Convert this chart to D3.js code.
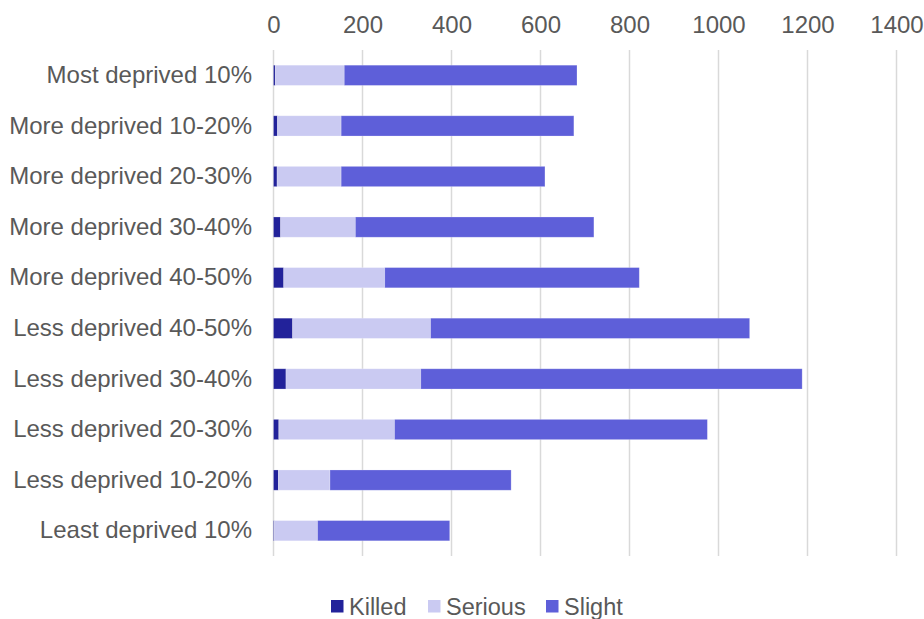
<!DOCTYPE html>
<html>
<head>
<meta charset="utf-8">
<script src="https://cdn.jsdelivr.net/npm/d3@7"></script>
<style>
  body { margin: 0; background: #fff; }
  svg text { font-family: "Liberation Sans", Arial, sans-serif; }
</style>
</head>
<body>
<svg id="chart"></svg>
<script>
// deprivation bands, top to bottom
const categories = [
    'Most deprived 10%', 'More deprived 10-20%', 'More deprived 20-30%',
    'More deprived 30-40%', 'More deprived 40-50%', 'Less deprived 40-50%',
    'Less deprived 30-40%', 'Less deprived 20-30%', 'Less deprived 10-20%',
    'Least deprived 10%'
];
const killed  = [4, 9, 8, 16, 23, 43, 28, 12, 11, 2];
const serious = [155, 143, 144, 168, 227, 310, 303, 260, 116, 97];
const slight  = [523, 523, 458, 536, 572, 717, 857, 703, 407, 297];
const seriesNames = ['Killed', 'Serious', 'Slight'];
const xTicks = [0, 200, 400, 600, 800, 1000, 1200, 1400];

const colors = ['#22229a', '#cacaf2', '#5e5fd9'];
const textColor = '#595959';

const width = 924, height = 619;
const plot = {left: 273.5, right: 896.5, top: 50, bottom: 556};

const svg = d3.select('#chart')
    .attr('width', width)
    .attr('height', height);

const rows = categories.map((c, i) => ({cat: c, Killed: killed[i], Serious: serious[i], Slight: slight[i]}));
const stacked = d3.stack().keys(seriesNames)(rows);

const xScale = d3.scaleLinear()
    .domain([0, 1400])
    .range([plot.left, plot.right]);

const yScale = d3.scaleBand()
    .domain(categories)
    .range([plot.top, plot.bottom])
    .paddingInner(0.6)
    .paddingOuter(0.3);

// gridlines
svg.append('g')
    .selectAll('line')
    .data(xTicks)
    .enter()
    .append('line')
    .attr('x1', d => xScale(d))
    .attr('x2', d => xScale(d))
    .attr('y1', plot.top)
    .attr('y2', plot.bottom)
    .attr('stroke', '#d9d9d9')
    .attr('stroke-width', 1.5);

// top axis labels
const xAxis = d3.axisTop(xScale).tickValues(xTicks).tickFormat(d3.format('d')).tickSize(0).tickPadding(0);
const gx = svg.append('g')
    .attr('transform', 'translate(0, 33)')
    .attr('font-family', null)
    .call(xAxis);
gx.select('.domain').remove();
gx.selectAll('text')
    .attr('font-size', 24)
    .attr('fill', textColor);

// category labels
const yAxis = d3.axisLeft(yScale).tickSize(0).tickPadding(0);
const gy = svg.append('g')
    .attr('transform', 'translate(252, 0)')
    .call(yAxis);
gy.select('.domain').remove();
gy.selectAll('text')
    .attr('font-size', 24)
    .attr('fill', textColor);

// stacked bars
svg.append('g')
    .selectAll('g')
    .data(stacked)
    .enter()
    .append('g')
    .attr('fill', (d, i) => colors[i])
    .selectAll('rect')
    .data(d => d)
    .enter()
    .append('rect')
    .attr('x', d => xScale(d[0]))
    .attr('y', d => yScale(d.data.cat))
    .attr('width', d => xScale(d[1]) - xScale(d[0]))
    .attr('height', yScale.bandwidth())
    .attr('stroke', 'rgba(255,255,255,0.3)')
    .attr('stroke-width', 0.75);

// legend
const legendX = [331, 428, 546];
const legend = svg.append('g');
seriesNames.forEach((name, i) => {
    legend.append('rect')
        .attr('x', legendX[i])
        .attr('y', 600)
        .attr('width', 12.5)
        .attr('height', 12.5)
        .attr('fill', colors[i]);
    legend.append('text')
        .attr('x', legendX[i] + 18)
        .attr('y', 614.5)
        .attr('font-size', 23.5)
        .attr('fill', textColor)
        .text(name);
});
</script>
</body>
</html>
